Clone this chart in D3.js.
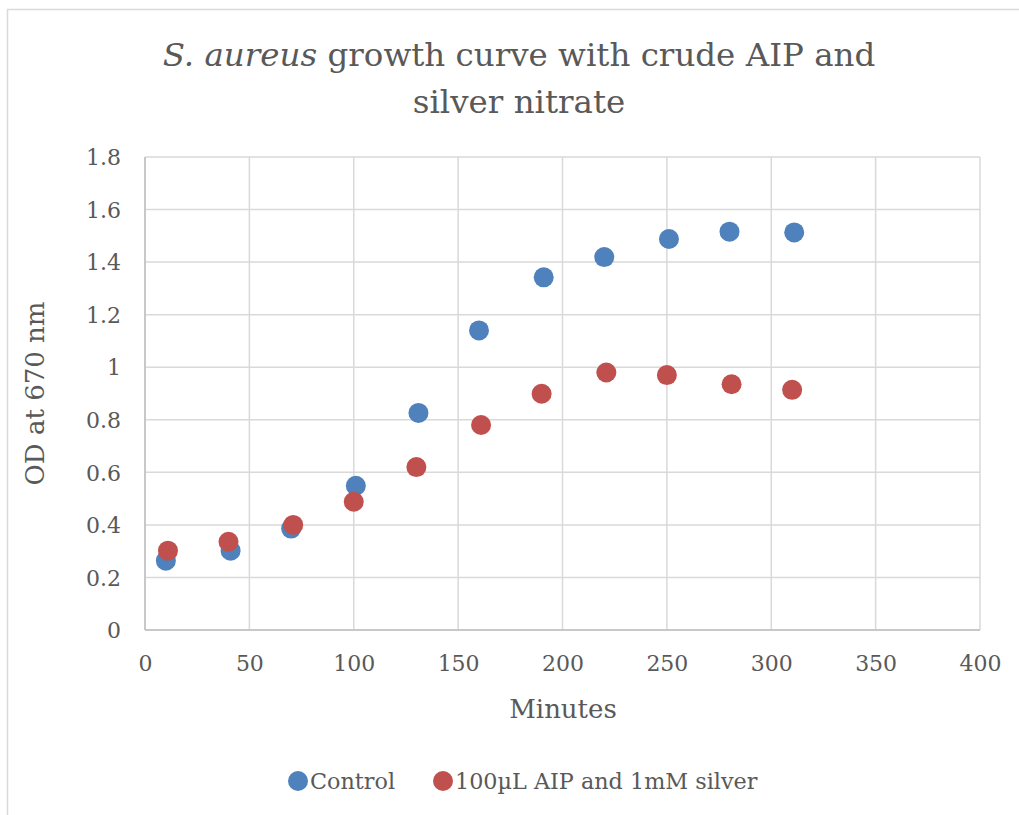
<!DOCTYPE html>
<html>
<head>
<meta charset="utf-8">
<script src="https://cdn.jsdelivr.net/npm/d3@7"></script>
<style>
  html, body { margin: 0; padding: 0; background: #fff; }
  svg text { font-family: "DejaVu Serif", "Liberation Serif", serif; fill: #595959; }
</style>
</head>
<body>
<svg id="chart" width="1019" height="815"></svg>
<script>
// data
const controlMinutes = [10, 41, 70, 101, 131, 160, 191, 220, 251, 280, 311];
const controlOD = [0.264, 0.302, 0.386, 0.549, 0.826, 1.14, 1.342, 1.419, 1.488, 1.516, 1.513];
const aipMinutes = [11, 40, 71, 100, 130, 161, 190, 221, 250, 281, 310];
const aipOD = [0.302, 0.336, 0.40, 0.488, 0.62, 0.78, 0.899, 0.98, 0.97, 0.935, 0.914];
const xTicks = [0, 50, 100, 150, 200, 250, 300, 350, 400];
const yTicks = [0, 0.2, 0.4, 0.6, 0.8, 1, 1.2, 1.4, 1.6, 1.8];
const seriesNames = ['Control', '100\u00b5L AIP and 1mM silver'];
const colors = ['#4F81BD', '#C0504D'];

var svg = d3.select('#chart');

// outer chart border (only top and left are in frame)
svg.append('path')
  .attr('d', 'M7.5,815 V9.5 H1019')
  .attr('fill', 'none')
  .attr('stroke', '#D9D9D9')
  .attr('stroke-width', 1.5);

var plotLeft = 145, plotRight = 980, plotTop = 157, plotBottom = 630;

var x = d3.scaleLinear().domain([0, 400]).range([plotLeft, plotRight]);
var y = d3.scaleLinear().domain([0, 1.8]).range([plotBottom, plotTop]);

// gridlines
var grid = svg.append('g');
grid.selectAll('.hg').data(yTicks).enter().append('line')
  .attr('x1', plotLeft).attr('x2', plotRight)
  .attr('y1', d => y(d)).attr('y2', d => y(d))
  .attr('stroke', '#D9D9D9').attr('stroke-width', 1.5);
grid.selectAll('.vg').data(xTicks).enter().append('line')
  .attr('y1', plotTop).attr('y2', plotBottom)
  .attr('x1', d => x(d)).attr('x2', d => x(d))
  .attr('stroke', '#D9D9D9').attr('stroke-width', 1.5);

// axis lines
svg.append('line').attr('x1', plotLeft).attr('x2', plotLeft).attr('y1', plotTop).attr('y2', plotBottom)
  .attr('stroke', '#BFBFBF').attr('stroke-width', 1.5);
svg.append('line').attr('x1', plotLeft).attr('x2', plotRight).attr('y1', plotBottom).attr('y2', plotBottom)
  .attr('stroke', '#BFBFBF').attr('stroke-width', 1.5);

// tick labels via d3 axes, with domain & ticks hidden
var xAxis = svg.append('g')
  .attr('transform', 'translate(0,' + plotBottom + ')')
  .call(d3.axisBottom(x).tickValues(xTicks).tickSize(0).tickPadding(25).tickFormat(d3.format('d')));
var yAxis = svg.append('g')
  .attr('transform', 'translate(' + plotLeft + ',0)')
  .call(d3.axisLeft(y).tickValues(yTicks).tickSize(0).tickPadding(24).tickFormat(d => String(+d.toFixed(1))));
[xAxis, yAxis].forEach(function(a) {
  a.select('.domain').remove();
  a.selectAll('text').style('font-size', '22px').attr('fill', '#595959')
    .style('font-family', '"DejaVu Serif", serif');
});
yAxis.selectAll('text').attr('dy', '0.35em');

// title
var title = svg.append('text').attr('text-anchor', 'middle').style('font-size', '32.5px');
var t1 = title.append('tspan').attr('x', 519).attr('y', 66);
t1.append('tspan').style('font-style', 'italic').text('S. aureus');
t1.append('tspan').text(' growth curve with crude AIP and');
title.append('tspan').attr('x', 519).attr('y', 113).text('silver nitrate');

// axis titles
svg.append('text').attr('x', 563).attr('y', 718).attr('text-anchor', 'middle')
  .style('font-size', '26px').text('Minutes');
svg.append('text').attr('transform', 'translate(44,' + ((plotTop + plotBottom) / 2) + ') rotate(-90)')
  .attr('text-anchor', 'middle').style('font-size', '26px').text('OD at 670 nm');

// points
var series = [
  { x: controlMinutes, y: controlOD },
  { x: aipMinutes, y: aipOD }
];
series.forEach(function(s, i) {
  svg.append('g').selectAll('circle')
    .data(d3.range(s.x.length)).enter().append('circle')
    .attr('cx', j => x(s.x[j]))
    .attr('cy', j => y(s.y[j]))
    .attr('r', 10)
    .attr('fill', colors[i]);
});

// legend
var legendX = [298, 443];
seriesNames.forEach(function(name, i) {
  svg.append('circle').attr('cx', legendX[i]).attr('cy', 781).attr('r', 10).attr('fill', colors[i]);
  svg.append('text').attr('x', legendX[i] + 12).attr('y', 789).style('font-size', '22.3px').text(name);
});
</script>
</body>
</html>
